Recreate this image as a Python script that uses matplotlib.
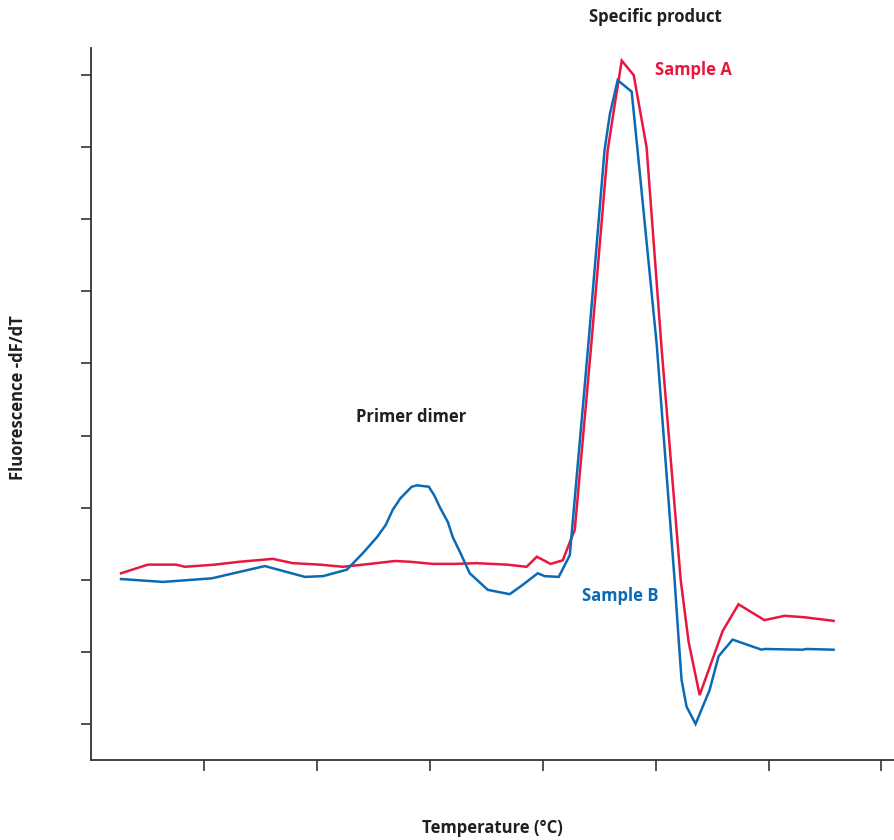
import matplotlib
matplotlib.use("Agg")
import matplotlib.pyplot as plt

plt.rcParams['font.family'] = ['Open Sans', 'DejaVu Sans']

# Sample A (red)
temp_a = [61.33, 62.52, 63.76, 64.16, 65.49, 66.59, 68.05, 68.94, 70.13, 71.15,
          72.35, 73.45, 74.12, 75.13, 76.11, 77.08, 78.41, 79.29, 79.74, 80.35,
          80.89, 81.20, 81.42, 82.17, 82.88, 83.19, 83.50, 84.03, 84.60, 85.27,
          86.11, 86.46, 86.95, 87.97, 88.67, 89.82, 90.71, 91.59, 92.88]
fluor_a = [2.09, 2.21, 2.21, 2.18, 2.21, 2.25, 2.29, 2.23, 2.21, 2.18,
           2.22, 2.26, 2.25, 2.22, 2.22, 2.23, 2.21, 2.18, 2.32, 2.22,
           2.27, 2.52, 2.69, 5.33, 7.96, 8.59, 9.20, 9.00, 8.00, 5.19,
           2.00, 1.14, 0.40, 1.29, 1.66, 1.44, 1.50, 1.48, 1.43]

# Sample B (blue)
temp_b = [61.33, 63.19, 65.35, 66.59, 67.70, 69.47, 70.27, 71.33, 72.04, 72.66,
          73.05, 73.36, 73.70, 73.98, 74.20, 74.43, 74.96, 75.20, 75.44, 75.80,
          76.02, 76.33, 76.77, 77.57, 78.54, 79.12, 79.78, 80.09, 80.71, 81.20,
          82.04, 82.74, 82.97, 83.32, 83.94, 84.20, 85.05, 85.84, 86.02, 86.15,
          86.37, 86.77, 87.39, 87.79, 88.41, 89.69, 89.82, 91.51, 91.68, 92.88]
fluor_b = [2.01, 1.97, 2.02, 2.11, 2.19, 2.04, 2.05, 2.14, 2.37, 2.59,
           2.76, 2.97, 3.13, 3.22, 3.29, 3.31, 3.29, 3.17, 3.01, 2.80,
           2.59, 2.39, 2.09, 1.86, 1.80, 1.93, 2.09, 2.05, 2.04, 2.34,
           5.33, 7.96, 8.45, 8.93, 8.77, 7.96, 5.26, 2.00, 1.17, 0.61,
           0.24, 0.00, 0.47, 0.94, 1.17, 1.03, 1.04, 1.03, 1.04, 1.03]

x_ticks = [65, 70, 75, 80, 85, 90, 95]
y_ticks = [0, 1, 2, 3, 4, 5, 6, 7, 8, 9]

RED = '#E8173F'
BLUE = '#0A6AB5'
DARK = '#231F20'

fig = plt.figure(figsize=(8.95, 8.4), dpi=100)
ax = fig.add_axes([91/895, 80/840, 1 - 91/895, (760-48)/840])

ax.plot(temp_a, fluor_a, color=RED, lw=1.8, solid_joinstyle='miter')
ax.plot(temp_b, fluor_b, color=BLUE, lw=1.8, solid_joinstyle='miter')

ax.set_xlim(60, 95.6)
ax.set_ylim(-0.5, 9.376)
ax.set_xticks(x_ticks)
ax.set_yticks(y_ticks)
ax.set_xticklabels([])
ax.set_yticklabels([])
ax.tick_params(axis='x', direction='out', length=8, width=1.2, color='#333333')
ax.tick_params(axis='y', direction='out', length=7.5, width=1.2, color='#333333')
for s in ['top', 'right']:
    ax.spines[s].set_visible(False)
for s in ['left', 'bottom']:
    ax.spines[s].set_linewidth(1.3)
    ax.spines[s].set_color('#333333')

FS = 12
ax.text(84.96, 9.07, 'Sample A', color=RED, fontsize=FS, fontweight='bold',
        ha='left', va='center')
ax.text(81.73, 1.78, 'Sample B', color=BLUE, fontsize=FS, fontweight='bold',
        ha='left', va='center')
ax.text(74.16, 4.26, 'Primer dimer', color=DARK, fontsize=FS, fontweight='bold',
        ha='center', va='center')
fig.text(655/895, 1 - 17/840, 'Specific product', color=DARK, fontsize=FS,
         fontweight='bold', ha='center', va='center')
fig.text(492/895, 1 - 828/840, 'Temperature (°C)', color=DARK, fontsize=FS,
         fontweight='bold', ha='center', va='center')
fig.text(18/895, 1 - 398/840, 'Fluorescence -dF/dT', color=DARK, fontsize=FS,
         fontweight='bold', ha='center', va='center', rotation=90)

fig.savefig('out.png', dpi=100)
